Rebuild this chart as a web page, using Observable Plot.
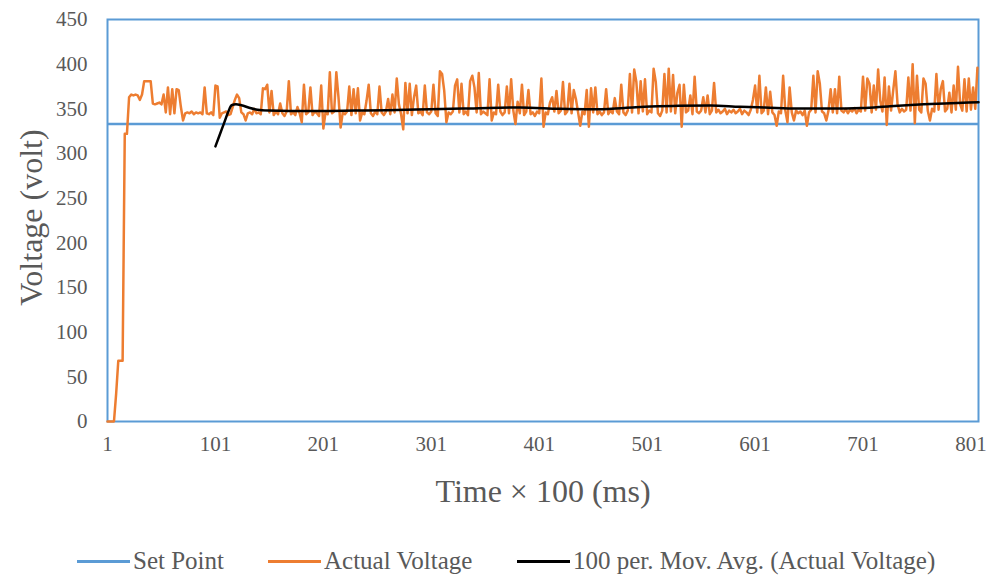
<!DOCTYPE html>
<html><head><meta charset="utf-8">
<script src="https://cdn.jsdelivr.net/npm/d3@7"></script>
<script src="https://cdn.jsdelivr.net/npm/@observablehq/plot@0.6"></script>
<style>
html,body{margin:0;padding:0;background:#fff;}
body{width:987px;height:577px;position:relative;overflow:hidden;font-family:"Liberation Serif","Times New Roman",serif;color:#595959;}
svg text{font-family:"Liberation Serif","Times New Roman",serif;}
#legend{position:absolute;left:0;top:545px;width:987px;height:32px;font-size:25px;}
.item{position:absolute;top:0;height:32px;display:flex;align-items:center;white-space:nowrap;}
.sw{display:inline-block;width:53px;height:3px;margin-right:3px;}
</style></head>
<body><div id="chart"></div><div id="legend"></div>
<script>
// ---- data ----
const setPoint = 333;
const xTicks = [1, 101, 201, 301, 401, 501, 601, 701, 801];
const yTicks = [0, 50, 100, 150, 200, 250, 300, 350, 400, 450];
const seriesNames = ["Set Point", "Actual Voltage", "100 per. Mov. Avg. (Actual Voltage)"];
const seriesColors = ["#5B9BD5", "#ED7D31", "#000000"];
// Actual voltage, sampled at every second time step (t = 1, 3, 5, ...)
const actualVoltage = [
0,0,0,0,31,68,68,68,322,322,
363,366,365,366,365,360,366,381,381,381,
381,356,355,356,357,355,366,346,374,344,
372,345,372,371,352,337,345,346,345,347,
344,346,345,346,344,374,345,344,346,343,
376,375,340,345,346,347,343,344,352,360,
366,362,346,344,337,345,346,344,350,345,
346,344,373,372,377,346,370,343,347,344,
356,345,342,347,381,344,346,343,352,345,
335,377,344,346,374,343,347,345,342,376,
328,346,344,391,345,347,391,363,329,346,
344,347,375,343,372,345,373,337,346,344,
359,377,345,342,347,344,375,346,343,347,
361,344,366,346,384,355,344,327,379,345,
378,343,363,376,345,347,343,376,346,344,
347,377,345,342,392,389,370,335,346,344,
347,376,383,346,378,344,347,343,381,387,
374,346,390,344,347,345,343,383,337,346,
344,377,347,343,346,375,345,383,348,333,
358,345,377,343,347,371,344,346,342,347,
345,384,330,346,344,357,363,347,370,345,
348,380,344,347,378,345,371,361,346,331,
347,344,371,330,373,346,374,344,347,343,
346,372,344,348,345,362,347,344,377,346,
343,348,389,346,394,380,345,381,347,383,
344,348,346,395,380,345,342,348,389,346,
395,347,388,345,368,377,330,377,346,348,
365,344,386,347,345,348,363,346,365,344,
348,379,346,349,345,347,350,344,348,346,
349,345,347,350,344,348,346,343,349,360,
376,346,387,345,348,374,344,369,346,343,
331,347,345,387,348,335,374,346,337,348,
345,347,343,348,331,346,349,387,346,392,
378,347,345,337,348,372,346,372,345,386,
348,346,350,345,349,347,351,345,349,347,
386,348,384,378,346,376,349,394,359,347,
385,332,375,348,371,392,355,346,350,347,
349,385,348,400,334,387,349,346,384,378,
348,337,350,347,389,349,372,381,347,350,
368,346,376,349,397,355,348,383,347,384,
349,374,350,396
];
// 100-period moving average, read at selected time steps
const maTime  = [101,105,109,113,116,120,125,133,140,150,170,200,230,260,300,340,383,420,450,480,504,530,560,587,610,640,670,700,726,757,788,808];
const maValue = [308,321,334,347,354,355,354,351,349,348,347.5,347.5,348,348.5,349.5,350.5,351.5,350,349.5,351,352.5,353.5,353.8,352.3,351.5,350.3,350.3,351,353,355,356.5,357.5];

// ---- tables ----
const actualTable = actualVoltage.map((v, k) => ({t: 1 + 2 * k, v}));
const maTable = maTime.map((t, k) => ({t, v: maValue[k]}));

const chart = Plot.plot({
  width: 987, height: 545,
  marginTop: 19, marginBottom: 124, marginLeft: 107, marginRight: 9,
  style: {fontFamily: "'Liberation Serif','Times New Roman',serif", fontSize: "21px", color: "#595959", background: "#fff", overflow: "visible"},
  x: {type: "linear", domain: [1, 808]},
  y: {domain: [0, 450]},
  marks: [
    Plot.axisX({ticks: xTicks, tickFormat: d => String(d), tickSize: 0, tickPadding: 15, label: null, fontSize: 21}),
    Plot.axisY({ticks: yTicks, tickFormat: d => String(d), tickSize: 0, tickPadding: 20, label: null, fontSize: 21}),
    Plot.frame({stroke: seriesColors[0], strokeWidth: 2}),
    Plot.ruleY([setPoint], {stroke: seriesColors[0], strokeWidth: 2.5}),
    Plot.line(actualTable, {x: "t", y: "v", stroke: seriesColors[1], strokeWidth: 2.5}),
    Plot.line(maTable, {x: "t", y: "v", stroke: seriesColors[2], strokeWidth: 2.5, curve: "monotone-x"}),
    Plot.text(["Time × 100 (ms)"], {frameAnchor: "bottom", textAnchor: "middle", lineAnchor: "middle", dy: 70, fontSize: 32, fill: "#595959"}),
    Plot.text(["Voltage (volt)"], {frameAnchor: "left", textAnchor: "middle", lineAnchor: "middle", dx: -76, dy: -3, rotate: -90, fontSize: 32, fill: "#595959"})
  ]
});
document.getElementById("chart").appendChild(chart);

const lefts = [77, 268, 517];
const legend = document.getElementById("legend");
seriesNames.forEach((name, i) => {
  const it = document.createElement("div");
  it.className = "item";
  it.style.left = lefts[i] + "px";
  const sw = document.createElement("span");
  sw.className = "sw";
  sw.style.background = seriesColors[i];
  it.appendChild(sw);
  it.appendChild(document.createTextNode(name));
  legend.appendChild(it);
});
</script>
</body></html>
